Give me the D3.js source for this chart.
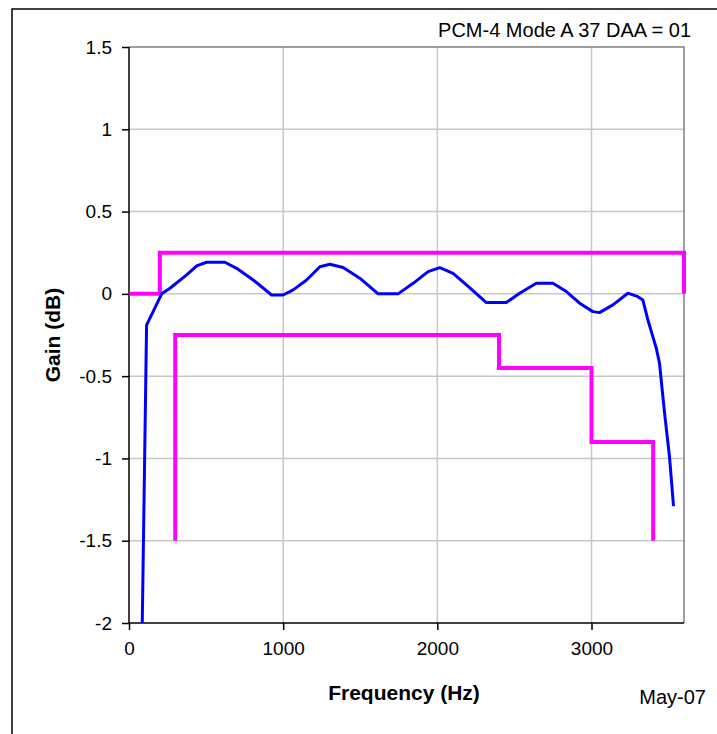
<!DOCTYPE html>
<html>
<head>
<meta charset="utf-8">
<script src="https://cdn.jsdelivr.net/npm/d3@7"></script>
<style>
  html, body { margin: 0; padding: 0; background: #fff; }
  svg { display: block; font-family: "Liberation Sans", Arial, sans-serif; }
</style>
</head>
<body>
<svg id="chart" width="717" height="734"></svg>
<script>
const width = 717, height = 734;

// measured response (blue)
const respFreq = [86, 114, 212, 266, 374, 439, 503, 622, 698, 806, 925, 1000, 1065, 1152, 1238, 1303,
  1389, 1497, 1616, 1745, 1843, 1940, 2016, 2102, 2189, 2318, 2448, 2534, 2642, 2750, 2837, 2923,
  3009, 3052, 3139, 3236, 3301, 3333, 3366, 3420, 3441, 3474, 3506, 3532];
const respGain = [-2.0, -0.19, 0.0, 0.034, 0.115, 0.17, 0.192, 0.192, 0.155, 0.084, -0.007, -0.007, 0.024, 0.084, 0.165, 0.18,
  0.16, 0.095, 0.0, 0.0, 0.064, 0.135, 0.159, 0.125, 0.054, -0.053, -0.053, 0.004, 0.064, 0.064, 0.014, -0.057,
  -0.108, -0.114, -0.067, 0.004, -0.017, -0.037, -0.159, -0.33, -0.42, -0.725, -0.99, -1.29];

// upper mask (magenta)
const upperFreq = [0, 200, 200, 3600, 3600];
const upperGain = [0, 0, 0.25, 0.25, 0];

// lower mask (magenta)
const lowerFreq = [300, 300, 2400, 2400, 3000, 3000, 3400, 3400];
const lowerGain = [-1.5, -0.25, -0.25, -0.45, -0.45, -0.9, -0.9, -1.5];

const xTicks = [0, 1000, 2000, 3000];
const yTicks = [-2, -1.5, -1, -0.5, 0, 0.5, 1, 1.5];

const titleText = "PCM-4 Mode A 37 DAA = 01";
const xLabel = "Frequency (Hz)";
const yLabel = "Gain (dB)";
const dateText = "May-07";

const svg = d3.select("#chart");
const x = d3.scaleLinear().domain([0, 3600]).range([129, 684]);
const y = d3.scaleLinear().domain([-2, 1.5]).range([623, 47]);

// outer frame
svg.append("rect").attr("x", 12).attr("y", 9).attr("width", 720).attr("height", 740)
  .attr("fill", "#fff").attr("stroke", "#000").attr("stroke-width", 1.5);

// gridlines
svg.append("g").selectAll("line").data(xTicks.filter(d => d > 0)).join("line")
  .attr("x1", d => x(d)).attr("x2", d => x(d)).attr("y1", y(1.5)).attr("y2", y(-2))
  .attr("stroke", "#c8c8c8").attr("stroke-width", 1.5);
svg.append("g").selectAll("line").data(yTicks.filter(d => d > -2 && d < 1.5)).join("line")
  .attr("x1", x(0)).attr("x2", x(3600)).attr("y1", d => y(d)).attr("y2", d => y(d))
  .attr("stroke", "#c8c8c8").attr("stroke-width", 1.5);

// plot border top/right
svg.append("path")
  .attr("d", `M${x(0)},${y(1.5)}H${x(3600)}V${y(-2)}`)
  .attr("fill", "none").attr("stroke", "#808080").attr("stroke-width", 1.5);

// axes
const yAxis = svg.append("g").attr("transform", `translate(${x(0)},0)`)
  .call(d3.axisLeft(y).tickValues(yTicks).tickSize(7).tickPadding(10).tickFormat(d => String(d)));
const xAxis = svg.append("g").attr("transform", `translate(0,${y(-2)})`)
  .call(d3.axisBottom(x).tickValues(xTicks).tickSize(7).tickPadding(12).tickFormat(d => String(d)));
[xAxis, yAxis].forEach(g => {
  g.select(".domain").attr("stroke", "#000").attr("stroke-width", 1.5);
  g.selectAll(".tick line").attr("stroke", "#000").attr("stroke-width", 1.5);
  g.selectAll("text").attr("fill", "#000").attr("font-size", 19)
    .attr("font-family", "'Liberation Sans', Arial, sans-serif");
});
xAxis.select(".domain").attr("d", `M${x(0)},0H${x(3600)}`);
yAxis.select(".domain").attr("d", `M0,${y(-2)}V${y(1.5)}`);

// series
const line = d3.line().x(d => x(d[0])).y(d => y(d[1]));
svg.append("path").datum(d3.zip(upperFreq, upperGain)).attr("d", line)
  .attr("fill", "none").attr("stroke", "#ff00ff").attr("stroke-width", 4);
svg.append("path").datum(d3.zip(lowerFreq, lowerGain)).attr("d", line)
  .attr("fill", "none").attr("stroke", "#ff00ff").attr("stroke-width", 4);
svg.append("path").datum(d3.zip(respFreq, respGain)).attr("d", line)
  .attr("fill", "none").attr("stroke", "#0000ff").attr("stroke-width", 3)
  .attr("stroke-linejoin", "round");

// texts
svg.append("text").attr("x", 691).attr("y", 37).attr("text-anchor", "end")
  .attr("font-size", 20).text(titleText);
svg.append("text").attr("x", 404).attr("y", 700).attr("text-anchor", "middle")
  .attr("font-size", 21).attr("font-weight", "bold").text(xLabel);
svg.append("text").attr("transform", "translate(60,335) rotate(-90)").attr("text-anchor", "middle")
  .attr("font-size", 21).attr("font-weight", "bold").text(yLabel);
svg.append("text").attr("x", 706).attr("y", 704).attr("text-anchor", "end")
  .attr("font-size", 20).text(dateText);
</script>
</body>
</html>
